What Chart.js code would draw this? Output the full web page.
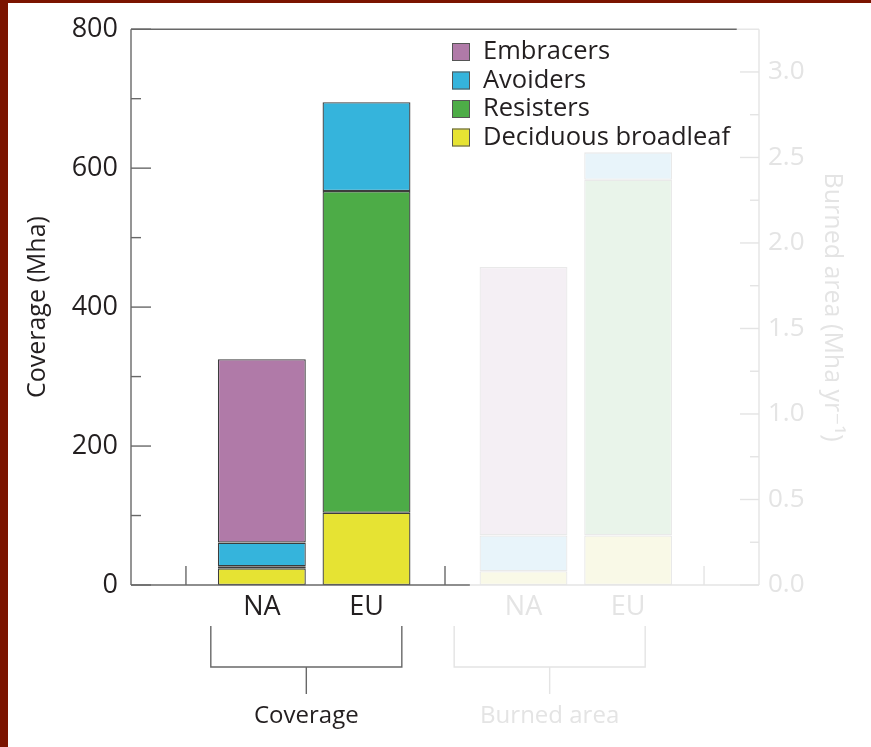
<!DOCTYPE html>
<html>
<head>
<meta charset="utf-8">
<title>Forest fire strategies: coverage and burned area</title>
<script src="https://cdn.jsdelivr.net/npm/chart.js@4/dist/chart.umd.min.js"></script>
<style>
  html, body { margin: 0; padding: 0; background: #fff; }
  #wrap { width: 871px; height: 747px; }
</style>
</head>
<body>
<div id="wrap"><canvas id="chart" width="871" height="747"></canvas></div>
<script>
// ---- data ----
const categories = ['NA', 'EU'];
const groups = ['Coverage', 'Burned area'];
const seriesNames = ['Deciduous broadleaf', 'Resisters', 'Avoiders', 'Embracers'];

// coverage (Mha), NA then EU
const coverageDeciduous = [24, 104];
const coverageResisters = [3, 463];
const coverageAvoiders = [34, 128];
const coverageEmbracers = [264, 0];

// burned area (Mha yr-1), NA then EU
const burnedDeciduous = [0.08, 0.29];
const burnedResisters = [0, 2.08];
const burnedAvoiders = [0.21, 0.16];
const burnedEmbracers = [1.57, 0];

const coverageTicks = [0, 200, 400, 600, 800];
const burnedTicks = [0, 0.5, 1.0, 1.5, 2.0, 2.5, 3.0];

// ---- layout & style ----
const FONT = "'Open Sans', 'DejaVu Sans', sans-serif";
const INK = '#231f20';
const FADE = '#e4e4e4';
const AXIS = '#686868';
const slotX = [[5, 9], [15, 19]];          // bar centres per group on the x scale
const dividerX = [2.1, 12, 21.9];           // small upward ticks on the baseline
const bracketSpan = [[3.05, 10.35], [12.35, 19.65]];

const fill = {
  'Deciduous broadleaf': '#e6e333',
  'Resisters': '#4dac47',
  'Avoiders': '#35b4dc',
  'Embracers': '#b07aa8'
};
const fillFaded = {
  'Deciduous broadleaf': '#f9f9e7',
  'Resisters': '#e9f4ea',
  'Avoiders': '#e8f4fa',
  'Embracers': '#f4eff4'
};

const coverageSeries = [coverageDeciduous, coverageResisters, coverageAvoiders, coverageEmbracers];
const burnedSeries = [burnedDeciduous, burnedResisters, burnedAvoiders, burnedEmbracers];

const datasets = [];
seriesNames.forEach((name, i) => {
  datasets.push({
    label: name,
    yAxisID: 'y',
    data: categories.map((c, j) => ({ x: slotX[0][j], y: coverageSeries[i][j] })),
    backgroundColor: fill[name],
    borderColor: '#3c3c3c',
    borderWidth: 1.3,
    inLegend: true
  });
});
seriesNames.forEach((name, i) => {
  datasets.push({
    label: name + ' (burned)',
    yAxisID: 'y2',
    data: categories.map((c, j) => ({ x: slotX[1][j], y: burnedSeries[i][j] })),
    backgroundColor: fillFaded[name],
    borderColor: '#e9e9e9',
    borderWidth: 1.3,
    inLegend: false
  });
});

const allSlots = slotX[0].concat(slotX[1]);
const slotLabels = groups.flatMap(() => categories);

const decor = {
  id: 'decor',
  beforeDraw(chart) {
    const { ctx, width, height } = chart;
    ctx.save();
    ctx.fillStyle = '#ffffff';
    ctx.fillRect(0, 0, width, height);
    ctx.fillStyle = '#7b1400';
    ctx.fillRect(0, 0, 8, height);
    ctx.fillRect(0, 0, width, 3);
    ctx.restore();
  },
  afterDraw(chart) {
    const { ctx } = chart;
    const { left, right, top, bottom } = chart.chartArea;
    const xs = chart.scales.x, ys = chart.scales.y, y2 = chart.scales.y2;
    const seg = (x1, y1, x2, y2_, c) => {
      ctx.strokeStyle = c;
      ctx.beginPath();
      ctx.moveTo(x1, y1);
      ctx.lineTo(x2, y2_);
      ctx.stroke();
    };
    ctx.save();
    ctx.lineWidth = 1.4;

    // frame: faded right part, dark left part
    const baseSplit = xs.getPixelForValue(12.95);
    const topSplit = xs.getPixelForValue(23.15);
    seg(baseSplit, bottom, right, bottom, FADE);
    seg(topSplit, top, right, top, FADE);
    seg(right, top, right, bottom, FADE);
    seg(left, top, topSplit, top, AXIS);
    seg(left, top, left, bottom, AXIS);
    seg(left, bottom, baseSplit, bottom, AXIS);

    // inward ticks, left axis
    for (let i = 0; i < coverageTicks.length; i++) {
      const v = coverageTicks[i];
      const py = ys.getPixelForValue(v);
      seg(left, py, left + 20, py, AXIS);
      if (i < coverageTicks.length - 1) {
        const pm = ys.getPixelForValue((v + coverageTicks[i + 1]) / 2);
        seg(left, pm, left + 10, pm, AXIS);
      }
    }
    // inward ticks, right axis
    for (let i = 0; i < burnedTicks.length; i++) {
      const v = burnedTicks[i];
      const py = y2.getPixelForValue(v);
      seg(right, py, right - 19, py, FADE);
      const pm = y2.getPixelForValue(v + 0.25);
      if (pm > top + 1) seg(right, pm, right - 9, pm, FADE);
    }
    // upward dividers on the baseline
    dividerX.forEach((v, i) => {
      const px = xs.getPixelForValue(v);
      seg(px, bottom, px, bottom - 19, i < 2 ? AXIS : FADE);
    });

    // group brackets and their labels
    ctx.font = `24px ${FONT}`;
    ctx.textAlign = 'center';
    ctx.textBaseline = 'middle';
    bracketSpan.forEach((span, i) => {
      const c = i === 0 ? AXIS : FADE;
      const x1 = xs.getPixelForValue(span[0]);
      const x2 = xs.getPixelForValue(span[1]);
      const xm = (x1 + x2) / 2;
      ctx.beginPath();
      ctx.strokeStyle = c;
      ctx.moveTo(x1, bottom + 41);
      ctx.lineTo(x1, bottom + 82);
      ctx.lineTo(x2, bottom + 82);
      ctx.lineTo(x2, bottom + 41);
      ctx.moveTo(xm, bottom + 82);
      ctx.lineTo(xm, bottom + 109);
      ctx.stroke();
      ctx.fillStyle = i === 0 ? INK : FADE;
      ctx.fillText(groups[i], xm, bottom + 131);
    });

    // legend, top series first
    const items = chart.data.datasets.filter(d => d.inLegend).slice().reverse();
    ctx.font = `25.5px ${FONT}`;
    ctx.textAlign = 'left';
    ctx.lineWidth = 1;
    items.forEach((d, i) => {
      const cy = 52 + i * 28.5;
      ctx.fillStyle = d.backgroundColor;
      ctx.fillRect(452, cy - 9, 18, 18);
      ctx.strokeStyle = '#555';
      ctx.strokeRect(452.5, cy - 8.5, 17, 17);
      ctx.fillStyle = INK;
      ctx.fillText(d.label, 483, cy);
    });
    ctx.restore();
  }
};

new Chart(document.getElementById('chart'), {
  type: 'bar',
  data: { datasets },
  plugins: [decor],
  options: {
    responsive: false,
    animation: false,
    events: [],
    layout: { padding: { top: 29, left: 0, right: 0, bottom: 0 } },
    datasets: {
      bar: { categoryPercentage: 1, barPercentage: 0.84, borderSkipped: false }
    },
    plugins: { legend: { display: false }, tooltip: { enabled: false } },
    scales: {
      x: {
        type: 'linear', min: 0, max: 24, stacked: true, offset: false,
        grid: { display: false, drawTicks: false, offset: false },
        border: { display: false },
        afterBuildTicks: s => { s.ticks = allSlots.map(v => ({ value: v })); },
        afterFit: s => { s.height = 162; },
        ticks: {
          autoSkip: false, maxRotation: 0, minRotation: 0, padding: 6,
          font: { family: FONT, size: 27 },
          color: c => (c.index < 2 ? INK : FADE),
          callback: (v, i) => slotLabels[i]
        }
      },
      y: {
        position: 'left', min: 0, max: 800, stacked: true,
        grid: { display: false, drawTicks: false },
        border: { display: false },
        afterBuildTicks: s => { s.ticks = coverageTicks.map(v => ({ value: v })); },
        afterFit: s => { s.width = 131; },
        ticks: { padding: 13, font: { family: FONT, size: 27 }, color: INK },
        title: {
          display: true, text: 'Coverage (Mha)', color: INK,
          font: { family: FONT, size: 25 }, padding: { top: 23, bottom: 0 }
        }
      },
      y2: {
        position: 'right', min: 0, max: 3.25, stacked: true,
        grid: { display: false, drawTicks: false },
        border: { display: false },
        afterBuildTicks: s => { s.ticks = burnedTicks.map(v => ({ value: v })); },
        afterFit: s => { s.width = 112; },
        ticks: {
          padding: 9, font: { family: FONT, size: 26 }, color: FADE,
          callback: v => Number(v).toFixed(1)
        },
        title: {
          display: true, text: 'Burned area (Mha yr\u207B\u00B9)', color: FADE,
          font: { family: FONT, size: 25 }, padding: { top: 24, bottom: 0 }
        }
      }
    }
  }
});
</script>
</body>
</html>
